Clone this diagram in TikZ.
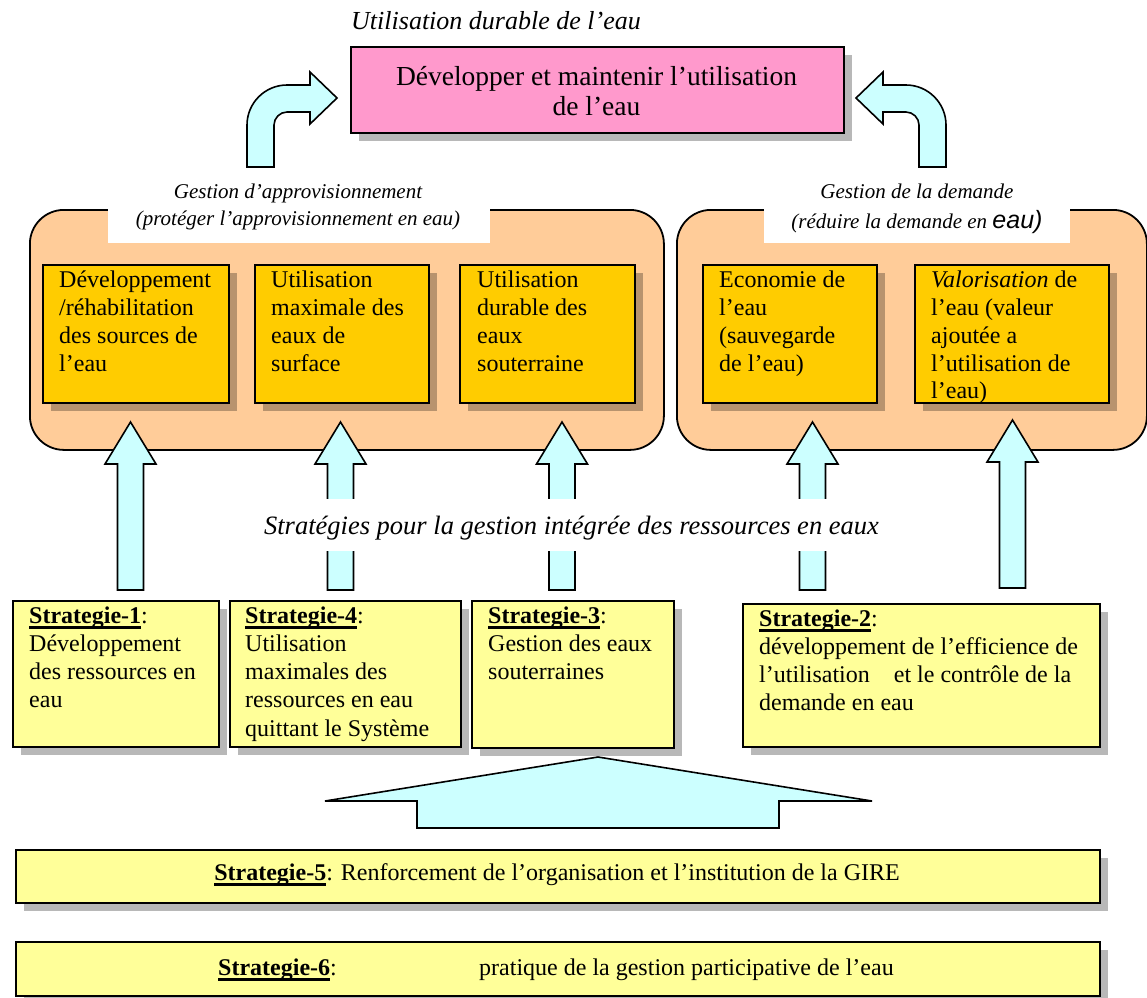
\documentclass[tikz,border=0pt]{standalone}
\usepackage{fontspec}
\setmainfont{Liberation Serif}
\setsansfont{Liberation Sans}
\usetikzlibrary{shadows}
\definecolor{pinkbox}{HTML}{FF99CC}
\definecolor{orangebg}{HTML}{FFCC99}
\definecolor{goldbox}{HTML}{FFCC00}
\definecolor{yellowbox}{HTML}{FFFF99}
\definecolor{cyanarrow}{HTML}{CCFFFF}
\newcommand\ulx[1]{\setbox0\hbox{\bfseries #1}\rlap{\rule[-5.5pt]{\wd0}{2.6pt}}\box0}
\newcommand\upblock[2]{\draw[blockarrow, shift={(#1)}] (0,0) -- (25.5,42) -- (13,42) -- (13,#2) -- (-13,#2) -- (-13,42) -- (-25.5,42) -- cycle;}
\tikzset{
  boxshadow/.style={drop shadow={shadow xshift=8pt, shadow yshift=-8pt, fill=black, opacity=0.28}},
  boxbase/.style={draw=black, line width=1.8pt, boxshadow, anchor=north west, inner sep=0pt},
  pinkstyle/.style={boxbase, fill=pinkbox},
  goldstyle/.style={boxbase, fill=goldbox, minimum height=138pt},
  stratstyle/.style={boxbase, fill=yellowbox},
  container/.style={draw=black, line width=1.8pt, fill=orangebg, rounded corners=34pt, anchor=north west, inner sep=0pt, minimum height=240pt},
  blockarrow/.style={draw=black, line width=1.6pt, fill=cyanarrow, line join=miter},
  boxtext/.style={anchor=north west, inner sep=0pt, align=left, font=\fontsize{24}{27.8}\selectfont},
  strattext/.style={anchor=north west, inner sep=0pt, align=left, font=\fontsize{24}{28.3}\selectfont},
  labeltext/.style={anchor=north, inner sep=0pt, align=center, font=\fontsize{21}{26.5}\selectfont\itshape},
}
\begin{document}
\begin{tikzpicture}[x=1pt,y=-1pt]
\fill[white] (0,0) rectangle (1147,997);
\path[use as bounding box] (0,0) rectangle (1147,997);

% title
\node[anchor=base, inner sep=0pt, font=\fontsize{26}{30}\selectfont\itshape] (title) at (496,29) {Utilisation durable de l’eau};

% curved arrows
\coordinate (lcurve) at (247,167);
\coordinate (rcurve) at (946,167);
\draw[blockarrow] (lcurve) -- (247,125) .. controls (247,103) and (265,85) .. (287,85) -- (310,85) -- (310,72) -- (337,98) -- (310,124) -- (310,112) -- (287,112) .. controls (280,112) and (274,118) .. (274,125) -- (274,167) -- cycle;
\draw[blockarrow] (rcurve) -- (946,125) .. controls (946,103) and (928,85) .. (906,85) -- (883,85) -- (883,72) -- (856,98) -- (883,124) -- (883,112) -- (906,112) .. controls (913,112) and (919,118) .. (919,125) -- (919,167) -- cycle;

% goal box
\node[pinkstyle, minimum width=493pt, minimum height=86pt] (goal) at (350,46) {};
\node[inner sep=0pt, align=center, font=\fontsize{27.5}{30}\selectfont] (goaltext) at (596.5,91) {Développer et maintenir l’utilisation\\de l’eau};

% containers
\node[container, minimum width=634pt] (supply) at (29,209) {};
\node[container, minimum width=470pt] (demand) at (676,209) {};

% labels
\fill[white] (108,176) rectangle (490,243);
\fill[white] (764,176) rectangle (1070,243);
\node[labeltext] (supplylabel) at (298,180) {\strut Gestion d’approvisionnement\\(protéger l’approvisionnement en eau)};
\node[labeltext] (demandlabel) at (917,180) {\strut Gestion de la demande\\[3pt](réduire la demande en {\sffamily\fontsize{25}{26.5}\selectfont eau)}};

% gold boxes
\node[goldstyle, minimum width=186pt] (g1) at (42,264) {};
\node[goldstyle, minimum width=174pt] (g2) at (254,264) {};
\node[goldstyle, minimum width=175pt] (g3) at (459,264) {};
\node[goldstyle, minimum width=174pt] (g4) at (702,264) {};
\node[goldstyle, minimum width=194pt] (g5) at (914,264) {};
\node[boxtext] (g1t) at ([shift={(17,4)}]g1.north west) {\strut Développement\\/réhabilitation\\des sources de\\l’eau};
\node[boxtext] (g2t) at ([shift={(17,4)}]g2.north west) {\strut Utilisation\\maximale des\\eaux de\\surface};
\node[boxtext] (g3t) at ([shift={(18,4)}]g3.north west) {\strut Utilisation\\durable des\\eaux\\souterraine};
\node[boxtext] (g4t) at ([shift={(17,4)}]g4.north west) {\strut Economie de\\l’eau\\(sauvegarde\\de l’eau)};
\node[boxtext] (g5t) at ([shift={(17,4)}]g5.north west) {\strut\textit{Valorisation} de\\l’eau (valeur\\ajoutée a\\l’utilisation de\\l’eau)};

% up arrows
\coordinate (tip1) at (130.5,422);
\coordinate (tip2) at (340.5,422);
\coordinate (tip3) at (562,422);
\coordinate (tip4) at (812.5,422);
\coordinate (tip5) at (1012.5,420);
\upblock{tip1}{168}
\upblock{tip2}{168}
\upblock{tip3}{168}
\upblock{tip4}{168}
\upblock{tip5}{168}

% central caption
\fill[white] (258,499) rectangle (884,551);
\node[anchor=base, inner sep=0pt, font=\fontsize{26.5}{30}\selectfont\itshape] (caption) at (571.5,534.5) {Stratégies pour la gestion intégrée des ressources en eaux};

% strategy boxes
\node[stratstyle, minimum width=206pt, minimum height=146pt] (s1) at (12,600) {};
\node[stratstyle, minimum width=231pt, minimum height=146pt] (s4) at (229,600) {};
\node[stratstyle, minimum width=202pt, minimum height=147pt] (s3) at (471,600) {};
\node[stratstyle, minimum width=357pt, minimum height=143pt] (s2) at (742,603) {};
\node[strattext] (s1t) at ([shift={(17,3)}]s1.north west) {\strut\ulx{Strategie-1}:\\Développement\\des ressources en\\eau};
\node[strattext] (s4t) at ([shift={(16,3)}]s4.north west) {\strut\ulx{Strategie-4}:\\Utilisation\\maximales des\\ressources en eau\\quittant le Système};
\node[strattext] (s3t) at ([shift={(17,3)}]s3.north west) {\strut\ulx{Strategie-3}:\\Gestion des eaux\\souterraines};
\node[strattext] (s2t) at ([shift={(17,3)}]s2.north west) {\strut\ulx{Strategie-2}:\\développement de l’efficience de\\l’utilisation\hspace{18pt} et le contrôle de la\\demande en eau};

% big arrow
\coordinate (bigtip) at (598,757);
\draw[blockarrow] (bigtip) -- (872,801) -- (779,801) -- (779,828) -- (417,828) -- (417,801) -- (325,801) -- cycle;

% bottom strategies
\node[stratstyle, minimum width=1084pt, minimum height=53pt] (s5) at (15,849) {};
\node[anchor=base, inner sep=0pt, font=\fontsize{24}{28}\selectfont] (s5t) at (557,880) {\ulx{Strategie-5}: Renforcement de l’organisation et l’institution de la GIRE};
\node[stratstyle, minimum width=1084pt, minimum height=54pt] (s6) at (15,941) {};
\node[anchor=base west, inner sep=0pt, font=\fontsize{24}{28}\selectfont] (s6a) at (218,975) {\ulx{Strategie-6}:};
\node[anchor=base west, inner sep=0pt, font=\fontsize{24}{28}\selectfont] (s6b) at (479,975) {pratique de la gestion participative de l’eau};
\end{tikzpicture}
\end{document}
